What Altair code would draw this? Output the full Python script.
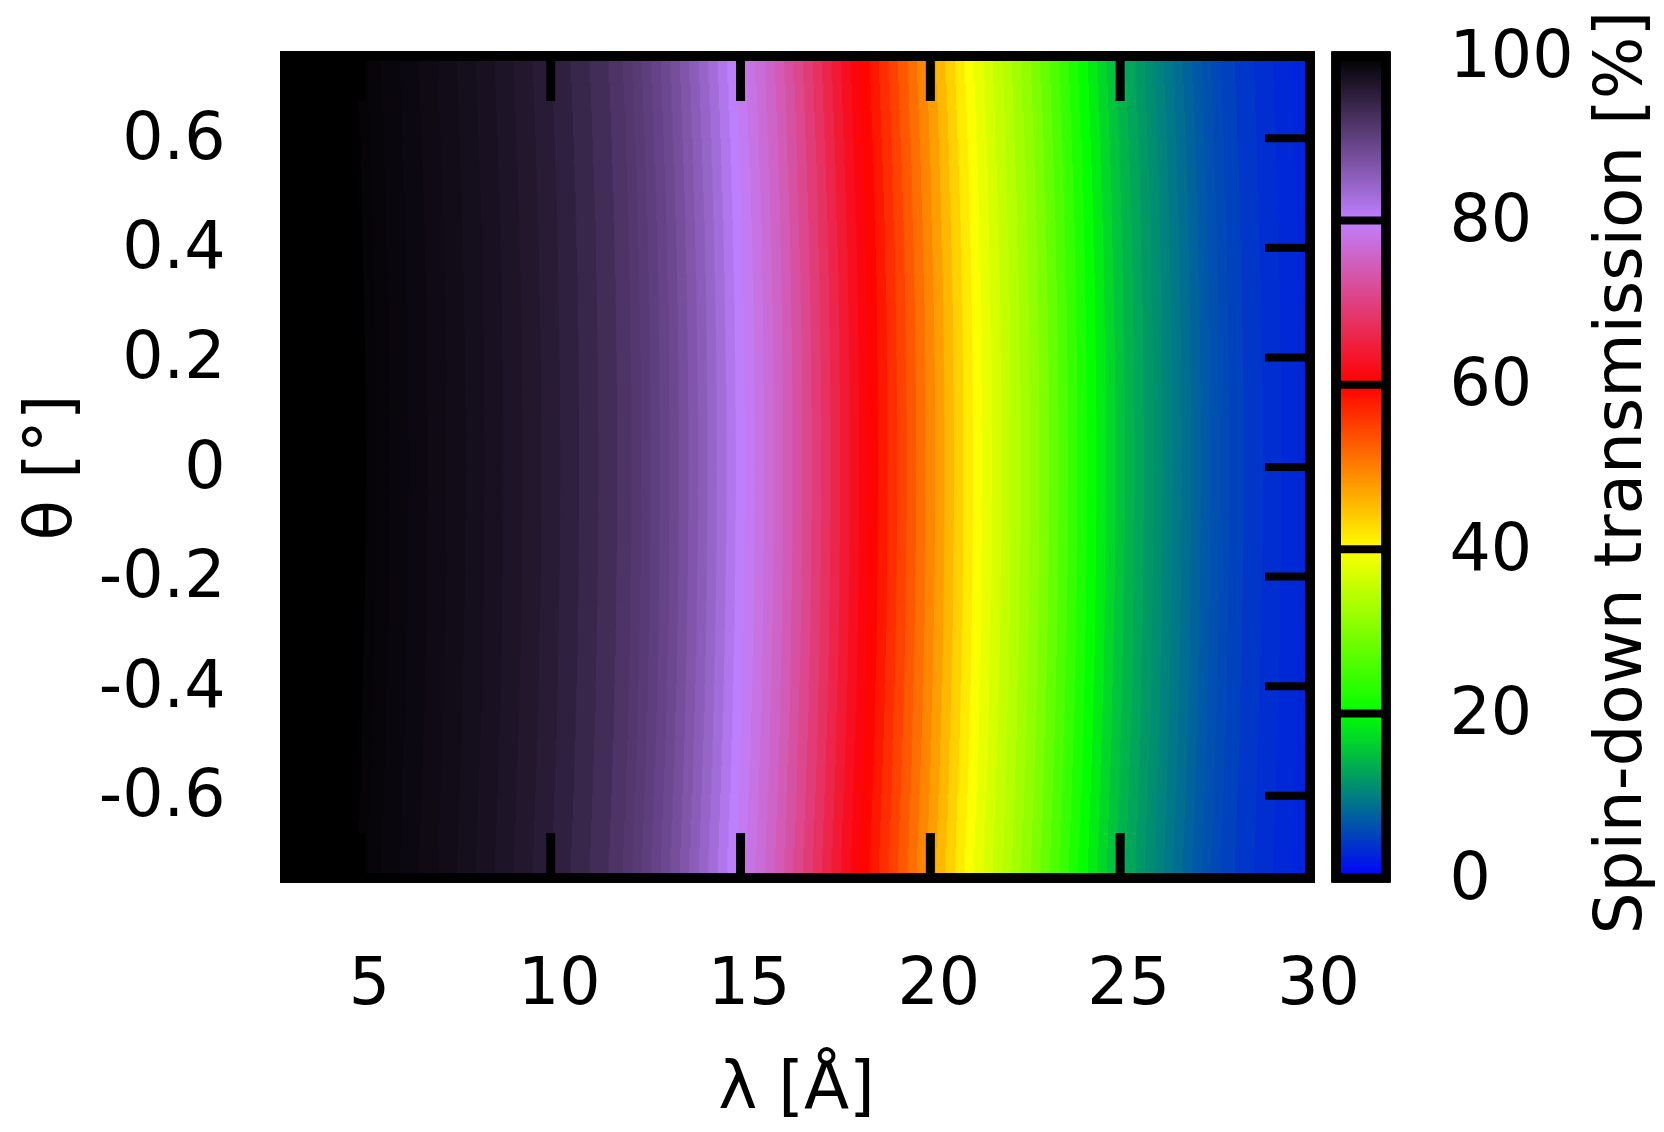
import altair as alt
import pandas as pd

# wavelength samples (Å) along the middle row (theta = 0) and spin-down transmission (%)
lam = [2.5, 3.0, 3.5, 4.0, 4.5, 5.0, 5.25, 5.5, 6.0, 6.5, 7.0, 7.5, 8.0, 8.5, 9.0, 9.5,
       10.0, 10.5, 11.0, 11.5, 12.0,
       12.25, 12.5, 12.75, 13.0, 13.25, 13.5, 13.75, 14.0, 14.25, 14.5, 14.75, 15.0,
       15.25, 15.5, 15.75, 16.0, 16.25, 16.5, 16.75, 17.0, 17.25, 17.5, 17.75, 18.0,
       18.25, 18.5, 18.75, 19.0, 19.25, 19.5, 19.75, 20.0, 20.25, 20.5, 20.75, 21.0,
       21.25, 21.5, 21.75, 22.0, 22.25, 22.5, 22.75, 23.0, 23.25, 23.5, 23.75, 24.0,
       24.25, 24.5, 24.75, 25.0, 25.25, 25.5, 25.75, 26.0, 26.25, 26.5, 26.75, 27.0,
       27.25, 27.5, 27.75, 28.0, 28.5, 29.0, 29.5, 30.0, 30.5]
trans = [100, 100, 100, 100, 100, 100, 99.4, 99.2, 99.0, 98.7, 98.4, 98.1, 97.8, 97.4, 96.9, 96.4,
         95.8, 95.0, 94.1, 93.1, 92.0,
         91.4, 90.8, 90.2, 89.5, 88.7, 87.8, 86.7, 85.5, 84.3, 83.0, 81.6, 80.2,
         79.0, 77.9, 76.8, 75.6, 74.2, 72.7, 71.1, 69.4, 67.6, 65.8, 64.0, 62.4,
         61.0, 59.6, 58.1, 56.5, 54.8, 53.1, 51.4, 49.5, 47.6, 45.6, 43.6, 41.6,
         39.8, 38.2, 36.8, 35.4, 34.1, 32.8, 31.4, 29.8, 28.0, 26.1, 24.2, 22.2,
         20.3, 18.5, 16.9, 15.4, 14.1, 13.0, 12.0, 11.1, 10.2, 9.4, 8.6, 7.8,
         7.0, 6.3, 5.7, 5.1, 4.3, 3.6, 3.1, 2.8, 2.6]

# |theta| row centres (deg) and the small wavelength shift of the pattern read for each row
theta_abs = [0.025, 0.075, 0.125, 0.175, 0.225, 0.275, 0.325, 0.375, 0.425, 0.475,
             0.525, 0.575, 0.625, 0.675, 0.725]
lam_shift = [0.0, -0.002, -0.007, -0.013, -0.022, -0.032, -0.045, -0.06, -0.077, -0.096,
             -0.118, -0.141, -0.167, -0.194, -0.224]

x_ticks = [5, 10, 15, 20, 25]
x_labels = [5, 10, 15, 20, 25, 30]
y_ticks = [-0.6, -0.4, -0.2, 0, 0.2, 0.4, 0.6]
cb_ticks = [20, 40, 60, 80]
cb_labels = [0, 20, 40, 60, 80, 100]

pal_domain = [0, 20, 40, 60, 80, 100]
pal_colors = ["#0000ff", "#00ff00", "#ffff00", "#ff0000", "#c080ff", "#000000"]

assert len(lam) == len(trans)

W, H = 1025, 822
CB_X0, CB_X1 = 1051, 1101
FONT = "DejaVu Sans"

edges = ([lam[0] - (lam[1] - lam[0]) / 2]
         + [(a + b) / 2 for a, b in zip(lam[:-1], lam[1:])]
         + [lam[-1] + (lam[-1] - lam[-2]) / 2])
rows = []
for th, s in zip(theta_abs, lam_shift):
    for c in (th, -th):
        for j, t in enumerate(trans):
            rows.append(dict(x0=edges[j] + s, x1=edges[j + 1] + s + 0.03,
                             y0=c - 0.025, y1=c + 0.029, T=t))
heat = pd.DataFrame(rows)

cb_step = 0.25
cb = pd.DataFrame({"lo": [i * cb_step for i in range(400)]})
cb["hi"] = cb["lo"] + cb_step + 0.25
cb["mid"] = cb["lo"] + cb_step / 2

cscale = alt.Scale(domain=pal_domain, range=pal_colors, interpolate="rgb")
xscale = alt.Scale(domain=[3, 30], nice=False, zero=False)
yscale = alt.Scale(domain=[-0.75, 0.75], nice=False, zero=False)
cbscale = alt.Scale(domain=[0, 100], nice=False, zero=False)

heat_layer = alt.Chart(heat).mark_rect(clip=True).encode(
    x=alt.X("x0:Q", scale=xscale, axis=alt.Axis(
        values=x_labels, title="λ [Å]", domain=False, ticks=False, tickSize=0, grid=False,
        labelPadding=125, labelBaseline="alphabetic", labelOffset=8, labelFlush=False,
        labelOverlap=False, titleX=511, titleY=229, titleBaseline="alphabetic",
        titleAlign="center")),
    x2="x1:Q",
    y=alt.Y("y0:Q", scale=yscale, axis=alt.Axis(
        values=y_ticks, title="θ [°]", domain=False, ticks=False, tickSize=0, grid=False,
        labelPadding=60, labelFlush=False, labelOverlap=False,
        labelExpr="datum.value < 0 ? '-' + format(-datum.value, '~g') : format(datum.value, '~g')",
        titleAngle=270, titleX=-215, titleY=411, titleBaseline="alphabetic",
        titleAlign="center")),
    y2="y1:Q",
    color=alt.Color("T:Q", scale=cscale, legend=None),
)

xt = pd.DataFrame({"v": x_ticks})
yt = pd.DataFrame({"v": y_ticks})
ct = pd.DataFrame({"c": cb_ticks})

tick_top = alt.Chart(xt).mark_rule(color="black", strokeWidth=9).encode(
    x=alt.X("v:Q", scale=xscale, axis=None), y=alt.value(0), y2=alt.value(45))
tick_bot = alt.Chart(xt).mark_rule(color="black", strokeWidth=9).encode(
    x=alt.X("v:Q", scale=xscale, axis=None), y=alt.value(H), y2=alt.value(H - 45))
tick_right = alt.Chart(yt).mark_rule(color="black", strokeWidth=8).encode(
    y=alt.Y("v:Q", scale=yscale, axis=None), x=alt.value(W), x2=alt.value(W - 45))
tick_left = alt.Chart(yt).mark_rule(color="black", strokeWidth=8).encode(
    y=alt.Y("v:Q", scale=yscale, axis=None), x=alt.value(0), x2=alt.value(45))
frame = alt.Chart(ct).mark_rect(fillOpacity=0, stroke="black", strokeWidth=10).encode(
    x=alt.value(0), x2=alt.value(W), y=alt.value(0), y2=alt.value(H))

cb_layer = alt.Chart(cb).mark_rect().encode(
    x=alt.value(CB_X0), x2=alt.value(CB_X1),
    y=alt.Y("lo:Q", scale=cbscale, axis=alt.Axis(
        orient="right", values=cb_labels, title="Spin-down transmission [%]",
        domain=False, ticks=False, tickSize=0, grid=False, labelPadding=139,
        labelFlush=False, labelOverlap=False, titleAngle=270, titleX=330, titleY=416,
        titleBaseline="alphabetic", titleAlign="center")),
    y2="hi:Q",
    color=alt.Color("mid:Q", scale=cscale, legend=None),
)
cb_ticks_layer = alt.Chart(ct).mark_rule(color="black", strokeWidth=8).encode(
    y=alt.Y("c:Q", scale=cbscale, axis=None), x=alt.value(CB_X0), x2=alt.value(CB_X1))
cb_border = alt.Chart(ct).mark_rect(fillOpacity=0, stroke="black", strokeWidth=9).encode(
    x=alt.value(CB_X0), x2=alt.value(CB_X1), y=alt.value(0), y2=alt.value(H))

chart = alt.layer(
    heat_layer, tick_top, tick_bot, tick_right, tick_left, frame,
    cb_layer, cb_ticks_layer, cb_border,
).resolve_scale(
    x="independent", y="independent"
).properties(
    width=W, height=H,
    autosize=alt.AutoSizeParams(type="none"),
    padding={"left": 277, "top": 48, "right": 346, "bottom": 246},
).configure_view(
    strokeWidth=0
).configure_axis(
    labelFont=FONT, titleFont=FONT, labelFontSize=65, titleFontSize=66,
    labelColor="black", titleColor="black", titleFontWeight="normal",
)

chart.save("out.html", embed_options={"renderer": "svg", "actions": False})
